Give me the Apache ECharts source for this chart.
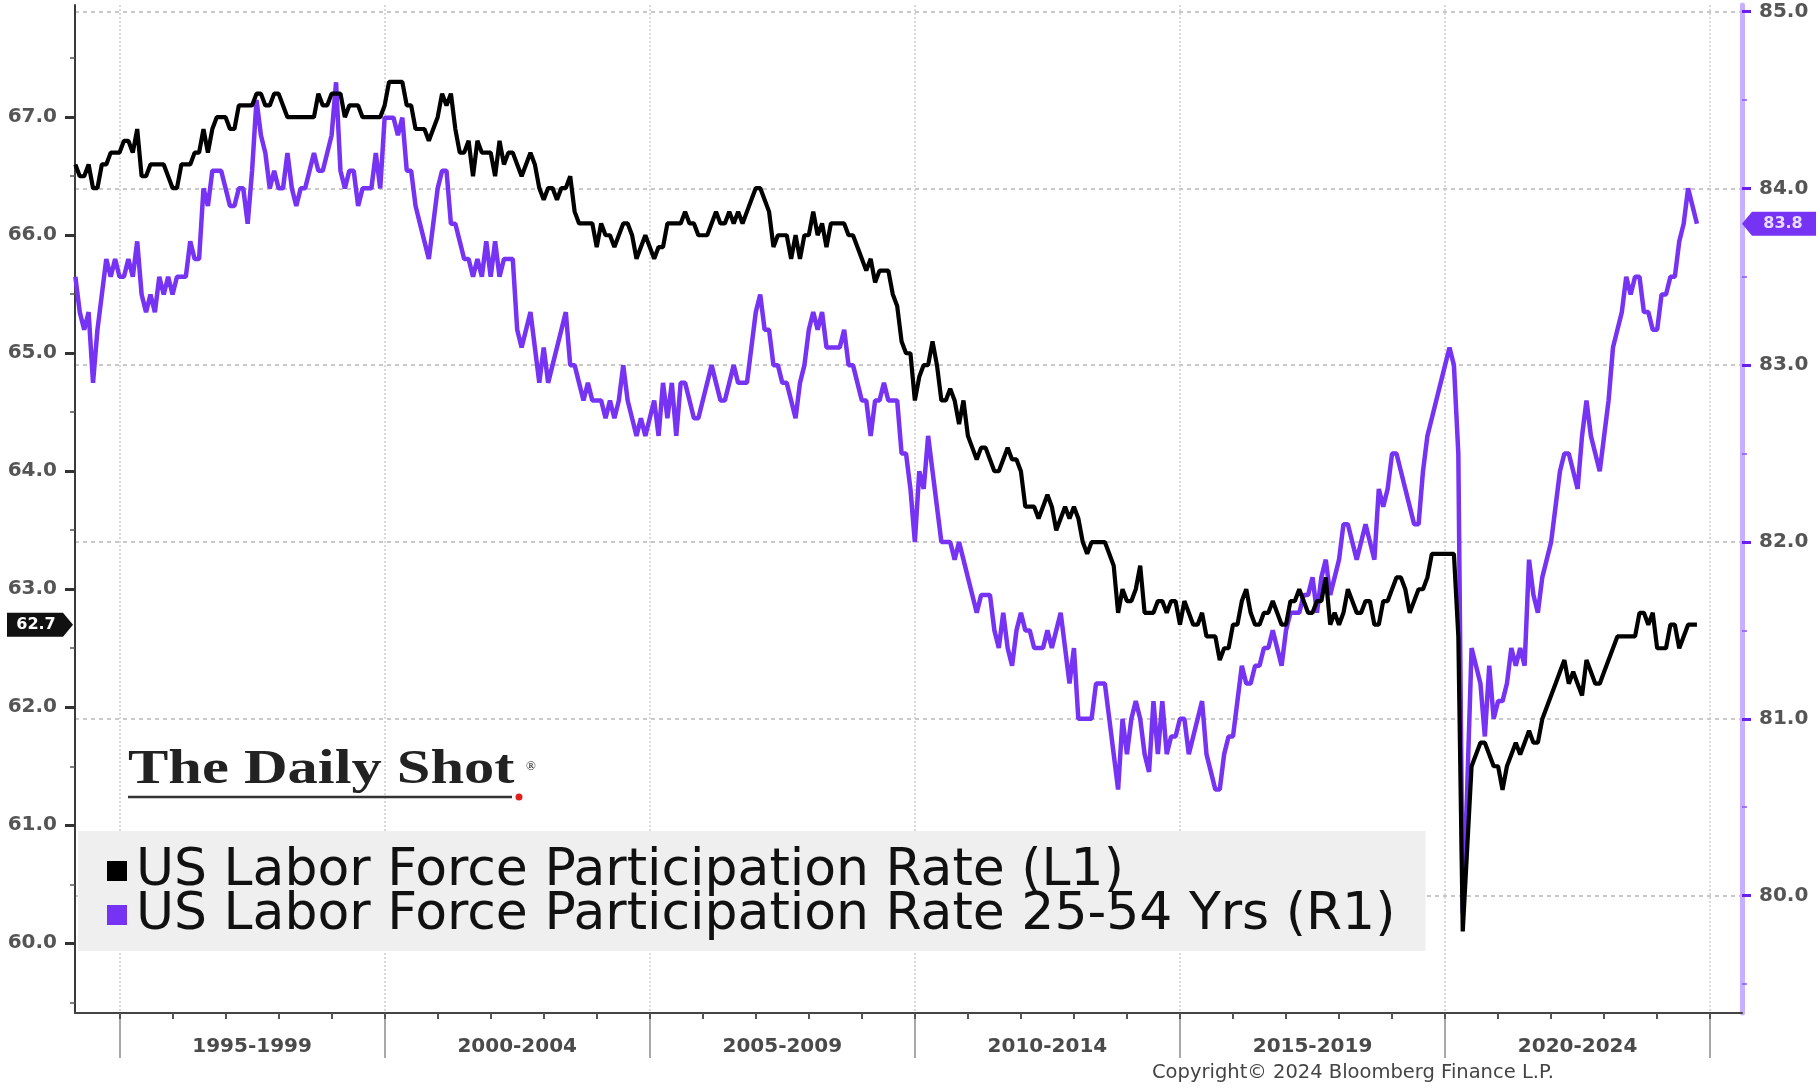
<!DOCTYPE html>
<html>
<head>
<meta charset="utf-8">
<title>US Labor Force Participation Rate</title>
<script src="https://cdn.jsdelivr.net/npm/echarts@6/dist/echarts.min.js"></script>
<style>
  html, body { margin: 0; padding: 0; background: #ffffff; }
  #chart { width: 1819px; height: 1088px; }
</style>
</head>
<body>
<div id="chart"></div>
<script>
// Monthly observations, first month = Feb 1994, last month = Sep 2024
const START_YEAR = 1994;
const START_MONTH = 2;

const NAME_L = 'US Labor Force Participation Rate (L1)';
const NAME_R = 'US Labor Force Participation Rate 25-54 Yrs (R1)';

// Labor force participation rate, all ages (%)
const lfpr = [
  /* 1994 */ 66.6, 66.5, 66.5, 66.6, 66.4, 66.4, 66.6, 66.6, 66.7, 66.7, 66.7,
  /* 1995 */ 66.8, 66.8, 66.7, 66.9, 66.5, 66.5, 66.6, 66.6, 66.6, 66.6, 66.5, 66.4,
  /* 1996 */ 66.4, 66.6, 66.6, 66.6, 66.7, 66.7, 66.9, 66.7, 66.9, 67.0, 67.0, 67.0,
  /* 1997 */ 66.9, 66.9, 67.1, 67.1, 67.1, 67.1, 67.2, 67.2, 67.1, 67.1, 67.2, 67.2,
  /* 1998 */ 67.1, 67.0, 67.0, 67.0, 67.0, 67.0, 67.0, 67.0, 67.2, 67.1, 67.1, 67.2,
  /* 1999 */ 67.2, 67.2, 67.0, 67.1, 67.1, 67.1, 67.0, 67.0, 67.0, 67.0, 67.0, 67.1,
  /* 2000 */ 67.3, 67.3, 67.3, 67.3, 67.1, 67.1, 66.9, 66.9, 66.9, 66.8, 66.9, 67.0,
  /* 2001 */ 67.2, 67.1, 67.2, 66.9, 66.7, 66.7, 66.8, 66.5, 66.8, 66.7, 66.7, 66.7,
  /* 2002 */ 66.5, 66.8, 66.6, 66.7, 66.7, 66.6, 66.5, 66.6, 66.7, 66.6, 66.4, 66.3,
  /* 2003 */ 66.4, 66.4, 66.3, 66.4, 66.4, 66.5, 66.2, 66.1, 66.1, 66.1, 66.1, 65.9,
  /* 2004 */ 66.1, 66.0, 66.0, 65.9, 66.0, 66.1, 66.1, 66.0, 65.8, 65.9, 66.0, 65.9,
  /* 2005 */ 65.8, 65.9, 65.9, 66.1, 66.1, 66.1, 66.1, 66.2, 66.1, 66.1, 66.0, 66.0,
  /* 2006 */ 66.0, 66.1, 66.2, 66.1, 66.1, 66.2, 66.1, 66.2, 66.1, 66.2, 66.3, 66.4,
  /* 2007 */ 66.4, 66.3, 66.2, 65.9, 66.0, 66.0, 66.0, 65.8, 66.0, 65.8, 66.0, 66.0,
  /* 2008 */ 66.2, 66.0, 66.1, 65.9, 66.1, 66.1, 66.1, 66.1, 66.0, 66.0, 65.9, 65.8,
  /* 2009 */ 65.7, 65.8, 65.6, 65.7, 65.7, 65.7, 65.5, 65.4, 65.1, 65.0, 65.0, 64.6,
  /* 2010 */ 64.8, 64.9, 64.9, 65.1, 64.9, 64.6, 64.6, 64.7, 64.6, 64.4, 64.6, 64.3,
  /* 2011 */ 64.2, 64.1, 64.2, 64.2, 64.1, 64.0, 64.0, 64.1, 64.2, 64.1, 64.1, 64.0,
  /* 2012 */ 63.7, 63.7, 63.7, 63.6, 63.7, 63.8, 63.7, 63.5, 63.6, 63.7, 63.6, 63.7,
  /* 2013 */ 63.6, 63.4, 63.3, 63.4, 63.4, 63.4, 63.4, 63.3, 63.2, 62.8, 63.0, 62.9,
  /* 2014 */ 62.9, 63.0, 63.2, 62.8, 62.8, 62.8, 62.9, 62.9, 62.8, 62.9, 62.9, 62.7,
  /* 2015 */ 62.9, 62.8, 62.7, 62.7, 62.8, 62.6, 62.6, 62.6, 62.4, 62.5, 62.5, 62.7,
  /* 2016 */ 62.7, 62.9, 63.0, 62.8, 62.7, 62.7, 62.8, 62.8, 62.9, 62.8, 62.7, 62.7,
  /* 2017 */ 62.9, 62.9, 63.0, 62.9, 62.8, 62.8, 62.9, 62.9, 63.1, 62.7, 62.8, 62.7,
  /* 2018 */ 62.8, 63.0, 62.9, 62.8, 62.8, 62.9, 62.9, 62.7, 62.7, 62.9, 62.9, 63.0,
  /* 2019 */ 63.1, 63.1, 63.0, 62.8, 62.9, 63.0, 63.0, 63.1, 63.3, 63.3, 63.3, 63.3,
  /* 2020 */ 63.3, 63.3, 62.6, 60.1, 60.8, 61.5, 61.6, 61.7, 61.7, 61.6, 61.5, 61.5,
  /* 2021 */ 61.3, 61.5, 61.6, 61.7, 61.6, 61.7, 61.8, 61.7, 61.7, 61.9, 62.0, 62.1,
  /* 2022 */ 62.2, 62.3, 62.4, 62.2, 62.3, 62.2, 62.1, 62.4, 62.3, 62.2, 62.2, 62.3,
  /* 2023 */ 62.4, 62.5, 62.6, 62.6, 62.6, 62.6, 62.6, 62.8, 62.8, 62.7, 62.8, 62.5,
  /* 2024 */ 62.5, 62.5, 62.7, 62.7, 62.5, 62.6, 62.7, 62.7, 62.7
];

// Labor force participation rate, ages 25-54 (%)
const lfprPrime = [
  /* 1994 */ 83.5, 83.3, 83.2, 83.3, 82.9, 83.2, 83.4, 83.6, 83.5, 83.6, 83.5,
  /* 1995 */ 83.5, 83.6, 83.5, 83.7, 83.4, 83.3, 83.4, 83.3, 83.5, 83.4, 83.5, 83.4,
  /* 1996 */ 83.5, 83.5, 83.5, 83.7, 83.6, 83.6, 84.0, 83.9, 84.1, 84.1, 84.1, 84.0,
  /* 1997 */ 83.9, 83.9, 84.0, 84.0, 83.8, 84.1, 84.5, 84.3, 84.2, 84.0, 84.1, 84.0,
  /* 1998 */ 84.0, 84.2, 84.0, 83.9, 84.0, 84.0, 84.1, 84.2, 84.1, 84.1, 84.2, 84.3,
  /* 1999 */ 84.6, 84.1, 84.0, 84.1, 84.1, 83.9, 84.0, 84.0, 84.0, 84.2, 84.0, 84.4,
  /* 2000 */ 84.4, 84.4, 84.3, 84.4, 84.1, 84.1, 83.9, 83.8, 83.7, 83.6, 83.8, 84.0,
  /* 2001 */ 84.1, 84.1, 83.8, 83.8, 83.7, 83.6, 83.6, 83.5, 83.6, 83.5, 83.7, 83.5,
  /* 2002 */ 83.7, 83.5, 83.6, 83.6, 83.6, 83.2, 83.1, 83.2, 83.3, 83.1, 82.9, 83.1,
  /* 2003 */ 82.9, 83.0, 83.1, 83.2, 83.3, 83.0, 83.0, 82.9, 82.8, 82.9, 82.8, 82.8,
  /* 2004 */ 82.8, 82.7, 82.8, 82.7, 82.8, 83.0, 82.8, 82.7, 82.6, 82.7, 82.6, 82.7,
  /* 2005 */ 82.8, 82.6, 82.9, 82.7, 82.9, 82.6, 82.9, 82.9, 82.8, 82.7, 82.7, 82.8,
  /* 2006 */ 82.9, 83.0, 82.9, 82.8, 82.8, 82.9, 83.0, 82.9, 82.9, 82.9, 83.1, 83.3,
  /* 2007 */ 83.4, 83.2, 83.2, 83.0, 83.0, 82.9, 82.9, 82.8, 82.7, 82.9, 83.0, 83.2,
  /* 2008 */ 83.3, 83.2, 83.3, 83.1, 83.1, 83.1, 83.1, 83.2, 83.0, 83.0, 82.9, 82.8,
  /* 2009 */ 82.8, 82.6, 82.8, 82.8, 82.9, 82.8, 82.8, 82.8, 82.5, 82.5, 82.3, 82.0,
  /* 2010 */ 82.4, 82.3, 82.6, 82.4, 82.2, 82.0, 82.0, 82.0, 81.9, 82.0, 81.9, 81.8,
  /* 2011 */ 81.7, 81.6, 81.7, 81.7, 81.7, 81.5, 81.4, 81.6, 81.4, 81.3, 81.5, 81.6,
  /* 2012 */ 81.5, 81.5, 81.4, 81.4, 81.4, 81.5, 81.4, 81.5, 81.6, 81.4, 81.2, 81.4,
  /* 2013 */ 81.0, 81.0, 81.0, 81.0, 81.2, 81.2, 81.2, 81.0, 80.8, 80.6, 81.0, 80.8,
  /* 2014 */ 81.0, 81.1, 81.0, 80.8, 80.7, 81.1, 80.8, 81.1, 80.8, 80.9, 80.9, 81.0,
  /* 2015 */ 81.0, 80.8, 80.9, 81.0, 81.1, 80.8, 80.7, 80.6, 80.6, 80.8, 80.9, 80.9,
  /* 2016 */ 81.1, 81.3, 81.2, 81.2, 81.3, 81.3, 81.4, 81.4, 81.5, 81.4, 81.3, 81.5,
  /* 2017 */ 81.6, 81.6, 81.6, 81.7, 81.7, 81.8, 81.6, 81.8, 81.9, 81.7, 81.8, 81.9,
  /* 2018 */ 82.1, 82.1, 82.0, 81.9, 82.0, 82.1, 82.0, 81.9, 82.3, 82.2, 82.3, 82.5,
  /* 2019 */ 82.5, 82.4, 82.3, 82.2, 82.1, 82.1, 82.4, 82.6, 82.7, 82.8, 82.9, 83.0,
  /* 2020 */ 83.1, 83.0, 82.5, 79.9, 80.6, 81.4, 81.3, 81.2, 80.9, 81.3, 81.0, 81.1,
  /* 2021 */ 81.1, 81.2, 81.4, 81.3, 81.4, 81.3, 81.9, 81.7, 81.6, 81.8, 81.9, 82.0,
  /* 2022 */ 82.2, 82.4, 82.5, 82.5, 82.4, 82.3, 82.6, 82.8, 82.6, 82.5, 82.4, 82.6,
  /* 2023 */ 82.8, 83.1, 83.2, 83.3, 83.5, 83.4, 83.5, 83.5, 83.3, 83.3, 83.2, 83.2,
  /* 2024 */ 83.4, 83.4, 83.5, 83.5, 83.7, 83.8, 84.0, 83.9, 83.8
];

// Axis tick values and period labels
const periodLabels = ['1995-1999', '2000-2004', '2005-2009', '2010-2014', '2015-2019', '2020-2024'];
const periodBounds = [1995, 2000, 2005, 2010, 2015, 2020, 2025];
const leftTicks = [60, 61, 62, 63, 64, 65, 66, 67];
const rightTicks = [80, 81, 82, 83, 84, 85];

// Axis extents
const X_MIN = 1994.16, X_MAX = 2025.6;
const L_MIN = 59.409, L_MAX = 67.951;
const R_MIN = 79.336, R_MAX = 85.037;

const PURPLE = '#7733f4';

// Each monthly value is placed at the end of its month on a decimal-year axis
const toPoints = (arr) => arr.map((v, i) => [START_YEAR + (START_MONTH + i) / 12, v]);
const lastL = lfpr[lfpr.length - 1];
const lastR = lfprPrime[lfprPrime.length - 1];

const periodMids = periodBounds.slice(0, -1).map(b => b + 2.5);
const yearTicks = [];
for (let y = periodBounds[0]; y <= periodBounds[periodBounds.length - 1]; y++) yearTicks.push(y);
const leftHalf = [59.5].concat(leftTicks.map(v => v + 0.5));
const rightHalf = [79.5].concat(rightTicks.slice(0, -1).map(v => v + 0.5));

const chart = echarts.init(document.getElementById('chart'), null, { renderer: 'canvas' });

chart.setOption({
  animation: false,
  backgroundColor: '#ffffff',
  textStyle: { fontFamily: 'DejaVu Sans' },
  grid: { left: 75, right: 77, top: 5, bottom: 75, containLabel: false },
  legend: {
    orient: 'vertical',
    left: 78,
    top: 831,
    padding: [14, 30, 10, 29],
    backgroundColor: '#efefef',
    itemGap: -8,
    itemWidth: 20,
    itemHeight: 20,
    selectedMode: false,
    textStyle: { fontSize: 52, color: '#111111', fontFamily: 'DejaVu Sans', padding: [0, 0, 0, 4] },
    data: [{ name: NAME_L, icon: 'rect' }, { name: NAME_R, icon: 'rect' }]
  },
  xAxis: [
    {
      type: 'value', min: X_MIN, max: X_MAX, position: 'bottom',
      axisLine: { show: true, onZero: false, lineStyle: { color: '#444444', width: 2 } },
      axisTick: { show: true, customValues: periodBounds, length: 45, lineStyle: { color: '#8c8c8c', width: 1.5 } },
      axisLabel: {
        show: true, customValues: periodMids, margin: 24, fontSize: 20, fontWeight: 'bold', color: '#4a4a4a',
        formatter: (v) => periodLabels[periodMids.indexOf(v)] || ''
      },
      splitLine: { show: true, lineStyle: { color: '#cdcdcd', type: [2, 2], width: 1.5 } }
    },
    {
      type: 'value', min: X_MIN, max: X_MAX, position: 'bottom',
      axisLine: { show: false, onZero: false },
      axisTick: { show: true, customValues: yearTicks, length: 6, lineStyle: { color: '#555555', width: 2 } },
      axisLabel: { show: false },
      splitLine: { show: false }
    }
  ],
  yAxis: [
    {
      type: 'value', position: 'left', min: L_MIN, max: L_MAX,
      axisLine: { show: true, onZero: false, lineStyle: { color: '#3a3a3a', width: 2 } },
      axisTick: { show: true, customValues: leftTicks, length: 10, lineStyle: { color: '#333333', width: 3 } },
      axisLabel: {
        show: true, customValues: leftTicks, margin: 18, fontSize: 20, fontWeight: 'bold', color: '#555555',
        formatter: (v) => v.toFixed(1)
      },
      splitLine: { show: false }
    },
    {
      type: 'value', position: 'right', min: R_MIN, max: R_MAX,
      axisLine: { show: true, onZero: false, lineStyle: { color: '#c6b0ff', width: 5 } },
      axisTick: { show: true, customValues: rightTicks, length: 9, lineStyle: { color: '#6a1ff0', width: 3 } },
      axisLabel: {
        show: true, customValues: rightTicks, margin: 17, fontSize: 20, fontWeight: 'bold', color: '#555555',
        formatter: (v) => v.toFixed(1)
      },
      splitLine: { show: true, lineStyle: { color: '#b8b8b8', type: [4, 4], width: 1.5 } }
    },
    {
      type: 'value', position: 'left', min: L_MIN, max: L_MAX,
      axisLine: { show: false, onZero: false },
      axisTick: { show: true, customValues: leftHalf, length: 5, lineStyle: { color: '#555555', width: 1.5 } },
      axisLabel: { show: false },
      splitLine: { show: false }
    },
    {
      type: 'value', position: 'right', min: R_MIN, max: R_MAX,
      axisLine: { show: false, onZero: false },
      axisTick: { show: true, customValues: rightHalf, length: 5, lineStyle: { color: '#8a55f5', width: 1.5 } },
      axisLabel: { show: false },
      splitLine: { show: false }
    }
  ],
  series: [
    {
      name: NAME_R, type: 'line', xAxisIndex: 0, yAxisIndex: 1,
      data: toPoints(lfprPrime),
      showSymbol: false, symbol: 'none',
      lineStyle: { color: PURPLE, width: 4.5 },
      itemStyle: { color: PURPLE },
      z: 2,
      markPoint: {
        silent: true,
        symbol: 'path://M0,12L10,0L74,0L74,24L10,24Z',
        symbolSize: [74, 24],
        symbolOffset: [37, 0],
        itemStyle: { color: PURPLE },
        label: {
          show: true, position: 'inside', offset: [4, 0], color: '#e8dcff',
          fontSize: 16, fontWeight: 'bold', formatter: (p) => p.value.toFixed(1)
        },
        data: [{ coord: [X_MAX, lastR], value: lastR }]
      }
    },
    {
      name: NAME_L, type: 'line', xAxisIndex: 0, yAxisIndex: 0,
      data: toPoints(lfpr),
      showSymbol: false, symbol: 'none',
      lineStyle: { color: '#000000', width: 4.2 },
      itemStyle: { color: '#000000' },
      z: 3,
      markPoint: {
        silent: true,
        symbol: 'path://M0,0L56,0L66,12L56,24L0,24Z',
        symbolSize: [66, 24],
        symbolOffset: [-35, 0],
        itemStyle: { color: '#111111' },
        label: {
          show: true, position: 'inside', offset: [-4, 0], color: '#ffffff',
          fontSize: 16, fontWeight: 'bold', formatter: (p) => p.value.toFixed(1)
        },
        data: [{ coord: [X_MIN, lastL], value: lastL }]
      }
    }
  ],
  graphic: [
    {
      type: 'text', x: 128, y: 771, scaleX: 1.26, z: 10,
      style: { text: 'The Daily Shot', font: 'bold 48px "Liberation Serif"', fill: '#222222', verticalAlign: 'middle' }
    },
    {
      type: 'text', x: 526, y: 760, z: 10,
      style: { text: '®', font: '13px "Liberation Serif"', fill: '#222222' }
    },
    {
      type: 'line', z: 10,
      shape: { x1: 128, y1: 797, x2: 512, y2: 797 },
      style: { stroke: '#333333', lineWidth: 2.5 }
    },
    {
      type: 'circle', z: 10,
      shape: { cx: 519, cy: 797, r: 3.5 },
      style: { fill: '#e0201a' }
    },
    {
      type: 'text', x: 1152, y: 1063, z: 10,
      style: { text: 'Copyright\u00a9 2024 Bloomberg Finance L.P.', font: '19.5px "DejaVu Sans"', fill: '#444444' }
    }
  ]
});
</script>
</body>
</html>
